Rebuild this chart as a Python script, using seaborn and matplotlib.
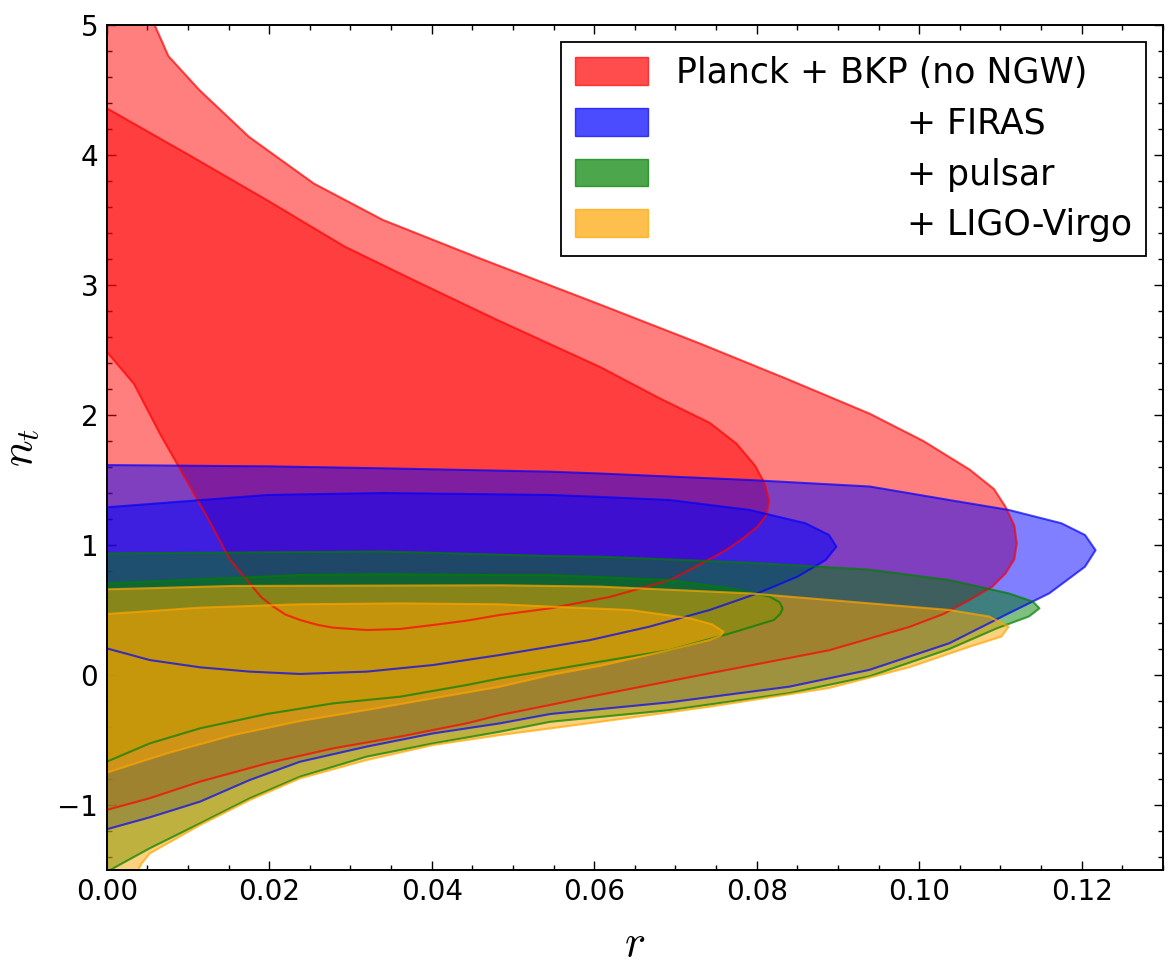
import numpy as np
import pandas as pd
import matplotlib
matplotlib.use("Agg")
import matplotlib.pyplot as plt
from matplotlib.patches import Patch
from matplotlib.ticker import MultipleLocator
import seaborn as sns

# ---------------- data (contour outlines) ----------------
labels = ["Planck + BKP (no NGW)", "+ FIRAS", "+ pulsar", "+ LIGO-Virgo"]
colors = ["red", "blue", "green", "orange"]

planck_95_r = [0, 0.0048, 0.0059, 0.0076, 0.0114, 0.0175, 0.0255, 0.034, 0.0457, 0.0607, 0.073,
               0.084, 0.0939, 0.1005, 0.1062, 0.1092, 0.1106, 0.1117, 0.112, 0.1117, 0.1106, 0.109,
               0.1062, 0.103, 0.0988, 0.0889, 0.0742, 0.0595,
               0.0546, 0.0484, 0.0443, 0.0361, 0.0279, 0.0197, 0.0115, 0.0053, 0]
planck_95_nt = [5.2, 5.2, 5.0, 4.76, 4.5, 4.14, 3.78, 3.5, 3.21, 2.85, 2.55,
                2.27, 2.01, 1.80, 1.58, 1.43, 1.295, 1.15, 1.013, 0.89, 0.78, 0.68,
                0.577, 0.47, 0.37, 0.19, 0.013, -0.167,
                -0.23, -0.308, -0.372, -0.474, -0.564, -0.68, -0.82, -0.948, -1.038]

planck_68_r = [0, 0.0104, 0.0198, 0.0293, 0.0387, 0.0481, 0.0607, 0.068, 0.0742, 0.0775, 0.0798, 0.081,
               0.0815, 0.0812, 0.0801, 0.0785, 0.0762, 0.073, 0.0693, 0.0619, 0.0546, 0.0484, 0.0443,
               0.0402, 0.0361, 0.032, 0.0279, 0.026, 0.0238, 0.022, 0.0205, 0.019, 0.0176, 0.0152,
               0.0125, 0.0098, 0.0066, 0.00335, 0]
planck_68_nt = [4.36, 3.99, 3.65, 3.295, 3.01, 2.73, 2.37, 2.13, 1.94, 1.78, 1.61, 1.47,
                1.34, 1.23, 1.14, 1.06, 0.96, 0.85, 0.73, 0.60, 0.513, 0.462, 0.418,
                0.385, 0.354, 0.346, 0.364, 0.385, 0.423, 0.465, 0.526, 0.60, 0.705, 0.885,
                1.2, 1.5, 1.85, 2.24, 2.487]

firas_95_r = [0, 0.02, 0.034, 0.0546, 0.0607, 0.0791, 0.0939, 0.1037, 0.111, 0.1175, 0.1204, 0.1217,
              0.1204, 0.116, 0.111, 0.1037, 0.0939, 0.084, 0.0693, 0.0546, 0.0484, 0.0402, 0.032,
              0.0238, 0.0176, 0.0115, 0.0053, 0]
firas_95_nt = [1.615, 1.605, 1.59, 1.564, 1.55, 1.5, 1.45, 1.346, 1.27, 1.167, 1.077, 0.96,
               0.833, 0.628, 0.474, 0.244, 0.04, -0.09, -0.21, -0.30, -0.372, -0.449, -0.551,
               -0.667, -0.808, -0.974, -1.095, -1.187]

firas_68_r = [0, 0.0198, 0.034, 0.0546, 0.0607, 0.0693, 0.0791, 0.086, 0.0889, 0.0898, 0.0885, 0.085,
              0.0801, 0.0742, 0.0668, 0.0595, 0.0546, 0.0484, 0.0402, 0.032, 0.0238, 0.0176, 0.0115,
              0.0053, 0]
firas_68_nt = [1.29, 1.385, 1.40, 1.385, 1.37, 1.346, 1.27, 1.167, 1.077, 0.987, 0.885, 0.756,
               0.628, 0.5, 0.372, 0.269, 0.218, 0.154, 0.077, 0.026, 0.008, 0.026, 0.059,
               0.115, 0.205]

pulsar_95_r = [0, 0.034, 0.0546, 0.0607, 0.0791, 0.0939, 0.1037, 0.111, 0.114, 0.1148, 0.1135, 0.1096,
               0.1037, 0.0939, 0.084, 0.0693, 0.0546, 0.0484, 0.0402, 0.032, 0.0238, 0.0176, 0.0115,
               0.0053, 0.0008, 0]
pulsar_95_nt = [0.935, 0.95, 0.915, 0.91, 0.864, 0.81, 0.73, 0.628, 0.564, 0.513, 0.45, 0.36,
                0.20, -0.01, -0.14, -0.27, -0.36, -0.436, -0.526, -0.628, -0.782, -0.949, -1.141,
                -1.333, -1.487, -1.52]

pulsar_68_r = [0, 0.0238, 0.034, 0.0484, 0.0546, 0.0693, 0.0767, 0.0816, 0.0828, 0.0832, 0.0829, 0.0821,
               0.0767, 0.0693, 0.0595, 0.0546, 0.0484, 0.0443, 0.0361, 0.0279, 0.0197, 0.0115, 0.0053, 0]
pulsar_68_nt = [0.705, 0.769, 0.775, 0.769, 0.769, 0.73, 0.667, 0.603, 0.56, 0.513, 0.47, 0.423,
                0.32, 0.192, 0.09, 0.038, -0.026, -0.077, -0.167, -0.218, -0.30, -0.41, -0.526, -0.667]

ligo_95_r = [0, 0.0156, 0.0484, 0.0607, 0.0791, 0.0939, 0.1037, 0.1086, 0.111, 0.1101, 0.1062, 0.0988,
             0.0889, 0.0742, 0.0607, 0.0484, 0.0402, 0.032, 0.0238, 0.0176, 0.0115, 0.0053, 0.0043,
             0.0037, 0.0035, 0]
ligo_95_nt = [0.659, 0.685, 0.69, 0.68, 0.628, 0.551, 0.5, 0.45, 0.372, 0.295, 0.218, 0.06,
              -0.10, -0.244, -0.36, -0.462, -0.538, -0.654, -0.795, -0.962, -1.154, -1.372, -1.45,
              -1.52, -1.6, -1.6]

ligo_68_r = [0, 0.0115, 0.0238, 0.0361, 0.0484, 0.0546, 0.0644, 0.0718, 0.0745, 0.0759, 0.0755, 0.0742,
             0.0693, 0.0607, 0.0546, 0.0484, 0.0402, 0.032, 0.0238, 0.0156, 0.0074, 0]
ligo_68_nt = [0.469, 0.518, 0.544, 0.551, 0.544, 0.526, 0.5, 0.436, 0.39, 0.333, 0.30, 0.269,
              0.192, 0.07, 0.0, -0.09, -0.179, -0.269, -0.354, -0.462, -0.603, -0.751]

contours = [
    [(planck_95_r, planck_95_nt), (planck_68_r, planck_68_nt)],
    [(firas_95_r, firas_95_nt), (firas_68_r, firas_68_nt)],
    [(pulsar_95_r, pulsar_95_nt), (pulsar_68_r, pulsar_68_nt)],
    [(ligo_95_r, ligo_95_nt), (ligo_68_r, ligo_68_nt)],
]

x_ticks = [0.00, 0.02, 0.04, 0.06, 0.08, 0.10, 0.12]
y_ticks = [-1, 0, 1, 2, 3, 4, 5]

# ---------------- style ----------------
sns.set_style("white")
plt.rcParams["font.family"] = ["DejaVu Sans"]
plt.rcParams["mathtext.fontset"] = "cm"
for key in ["text.color", "axes.labelcolor", "xtick.color", "ytick.color"]:
    plt.rcParams[key] = "black"

fig = plt.figure(figsize=(11.76, 9.63), dpi=100)
ax = fig.add_axes([106.7 / 1176, 1 - 870 / 963, (1163 - 106.7) / 1176, (870 - 25) / 963])

# filled regions
for (c, levels) in zip(colors, contours):
    for (r, nt) in levels:
        ax.fill(r, nt, color=c, alpha=0.5, lw=0, zorder=1)

# outlines
for (c, levels) in zip(colors, contours):
    for (r, nt) in levels:
        df = pd.DataFrame({"r": r, "nt": nt})
        sns.lineplot(data=df, x="r", y="nt", sort=False, estimator=None, color=c,
                     alpha=0.7, lw=1.5, ax=ax, zorder=2)

ax.set_xlim(0, 0.13)
ax.set_ylim(-1.5, 5)
ax.set_xticks(x_ticks)
ax.set_xticklabels([f"{v:.2f}" for v in x_ticks])
ax.set_yticks(y_ticks)
ax.xaxis.set_minor_locator(MultipleLocator(0.005))
ax.yaxis.set_minor_locator(MultipleLocator(0.2))
ax.tick_params(which="both", direction="in", top=True, right=True, bottom=True, left=True,
               colors="black", width=1.0)
ax.tick_params(which="major", length=6.5, labelsize=20, pad=6)
ax.tick_params(which="minor", length=3.5)
for s in ax.spines.values():
    s.set_linewidth(1.4)
    s.set_color("black")

ax.set_xlabel(r"$r$", fontsize=32, labelpad=11)
ax.set_ylabel(r"$n_t$", fontsize=32, labelpad=12)

pad = " " * 21
legend_labels = [labels[0]] + [pad + t for t in labels[1:]]
handles = [Patch(facecolor=c, edgecolor=c, alpha=0.7) for c in colors]
leg = ax.legend(handles, legend_labels, loc="upper right", fontsize=25, frameon=True,
                fancybox=False, framealpha=1, edgecolor="black", labelspacing=0.48,
                handlelength=2.1, handleheight=0.85, handletextpad=0.8, borderaxespad=0.5)
leg.get_frame().set_linewidth(1.3)
leg.set_zorder(5)

fig.savefig("out.png", dpi=100)
